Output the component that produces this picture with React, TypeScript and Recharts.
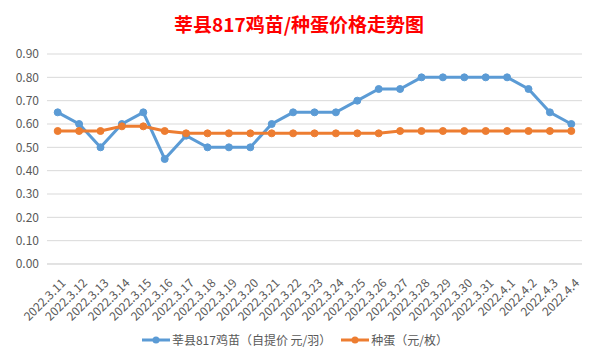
import { LineChart, Line, XAxis, YAxis, CartesianGrid } from "recharts";

const dates = [
  "2022.3.11", "2022.3.12", "2022.3.13", "2022.3.14", "2022.3.15", "2022.3.16",
  "2022.3.17", "2022.3.18", "2022.3.19", "2022.3.20", "2022.3.21", "2022.3.22",
  "2022.3.23", "2022.3.24", "2022.3.25", "2022.3.26", "2022.3.27", "2022.3.28",
  "2022.3.29", "2022.3.30", "2022.3.31", "2022.4.1", "2022.4.2", "2022.4.3", "2022.4.4",
];

const chickPrice = [
  0.65, 0.6, 0.5, 0.6, 0.65, 0.45, 0.55, 0.5, 0.5, 0.5, 0.6, 0.65, 0.65,
  0.65, 0.7, 0.75, 0.75, 0.8, 0.8, 0.8, 0.8, 0.8, 0.75, 0.65, 0.6,
];

const eggPrice = [
  0.57, 0.57, 0.57, 0.59, 0.59, 0.57, 0.56, 0.56, 0.56, 0.56, 0.56, 0.56, 0.56,
  0.56, 0.56, 0.56, 0.57, 0.57, 0.57, 0.57, 0.57, 0.57, 0.57, 0.57, 0.57,
];

const yTicks = [0, 0.1, 0.2, 0.3, 0.4, 0.5, 0.6, 0.7, 0.8, 0.9];

const titleText = "莘县817鸡苗/种蛋价格走势图";
const chickName = "莘县817鸡苗（自提价 元/羽）";
const eggName = "种蛋（元/枚）";

const BLUE = "#5B9BD5";
const ORANGE = "#ED7D31";
const GRID = "#d9d9d9";
const FONT = "'Noto Sans CJK SC', 'Noto Sans', sans-serif";

const data = dates.map((d, i) => ({
  date: d,
  chick: chickPrice[i],
  egg: eggPrice[i],
}));

function DateTick(props: any) {
  const { x, y, payload } = props;
  const tx = x + 5;
  const ty = y + 8;
  return (
    <text
      x={tx}
      y={ty}
      transform={`rotate(-45, ${tx}, ${ty})`}
      textAnchor="end"
      dominantBaseline="central"
      fontSize={12}
      fill="#595959"
      fontFamily={FONT}
    >
      {payload.value}
    </text>
  );
}

function LegendItem({ color, label }: { color: string; label: string }) {
  return (
    <span style={{ display: "inline-flex", alignItems: "center", marginRight: 10 }}>
      <svg width={28} height={10} style={{ marginRight: 2 }}>
        <line x1={0} y1={5} x2={28} y2={5} stroke={color} strokeWidth={3} />
        <circle cx={14} cy={5} r={3.5} fill={color} />
      </svg>
      <span>{label}</span>
    </span>
  );
}

export default function App() {
  const rowLines = [14, 33, 52, 71, 90, 109, 128, 147, 166, 185, 204, 223, 242, 261, 280, 299, 318, 337, 356];
  const colLines = [108, 180, 252, 324, 531];

  return (
    <div style={{ position: "relative", width: 600, height: 364, background: "#fff", margin: -8, overflow: "hidden" }}>
      {/* spreadsheet grid showing around the chart */}
      {rowLines.map((r) => (
        <div key={"l" + r} style={{ position: "absolute", left: 0, top: r, width: 3, height: 1, background: "#d4d4dc" }} />
      ))}
      {rowLines.map((r) => (
        <div key={"r" + r} style={{ position: "absolute", left: 597, top: r, width: 3, height: 1, background: "#d4d4dc" }} />
      ))}
      {colLines.map((c) => (
        <div key={"t" + c} style={{ position: "absolute", left: c, top: 0, width: 1, height: 3, background: "#d4d4dc" }} />
      ))}
      {colLines.map((c) => (
        <div key={"b" + c} style={{ position: "absolute", left: c, top: 361, width: 1, height: 3, background: "#d4d4dc" }} />
      ))}

      <div
        style={{
          position: "absolute",
          left: 2,
          top: 2,
          width: 594,
          height: 358,
          border: "1px solid #d9d9d9",
          background: "#fff",
        }}
      />

      <div
        style={{
          position: "absolute",
          left: 0,
          top: 11,
          width: 598,
          textAlign: "center",
          color: "#ff0000",
          fontWeight: "bold",
          fontSize: 19,
          fontFamily: FONT,
          lineHeight: "26px",
        }}
      >
        {titleText}
      </div>

      <div style={{ position: "absolute", left: 0, top: 0 }}>
        <LineChart
          width={600}
          height={364}
          data={data}
          margin={{ top: 54, right: 18, left: 0, bottom: 0 }}
        >
          <CartesianGrid vertical={false} stroke={GRID} />
          <XAxis
            dataKey="date"
            height={100}
            interval={0}
            padding={{ left: 10.7, right: 10.7 }}
            tickLine={false}
            axisLine={{ stroke: GRID }}
            tick={<DateTick />}
          />
          <YAxis
            width={47}
            domain={[0, 0.9]}
            ticks={yTicks}
            tickFormatter={(v: number) => v.toFixed(2)}
            axisLine={false}
            tickLine={false}
            tick={{ fontSize: 12, fill: "#595959", fontFamily: FONT }}
          />
          <Line
            dataKey="chick"
            name={chickName}
            stroke={BLUE}
            strokeWidth={3}
            dot={{ r: 3.5, fill: BLUE, stroke: BLUE, strokeWidth: 1 }}
            isAnimationActive={false}
          />
          <Line
            dataKey="egg"
            name={eggName}
            stroke={ORANGE}
            strokeWidth={3}
            dot={{ r: 3.5, fill: ORANGE, stroke: ORANGE, strokeWidth: 1 }}
            isAnimationActive={false}
          />
        </LineChart>
      </div>

      <div
        style={{
          position: "absolute",
          left: 0,
          top: 332,
          width: 600,
          textAlign: "center",
          fontSize: 12,
          color: "#595959",
          fontFamily: FONT,
          lineHeight: "16px",
        }}
      >
        <LegendItem color={BLUE} label={chickName} />
        <LegendItem color={ORANGE} label={eggName} />
      </div>
    </div>
  );
}
